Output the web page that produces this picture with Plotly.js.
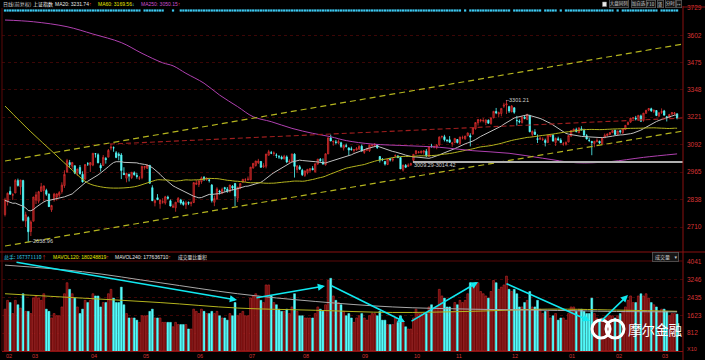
<!DOCTYPE html>
<html><head><meta charset="utf-8">
<script src="https://cdn.plot.ly/plotly-3.0.1.min.js"></script>
<style>html,body{margin:0;padding:0;background:#000;}#chart{width:705px;height:360px;}</style>
</head><body><div id="chart"></div>
<script>
// ---- data ----
const monthTickIdx=[0,10,33,53,74,94,115,138,158,174,196,218,236,254];
const monthLabels=["02","03","04","05","06","07","08","09","10","11","12","01","02","03"];
const priorCloses=[2949.60,3007.65,2900.97,2913.84,3007.74,2976.69,2880.48,2916.56,2938.51,2749.79,2735.56,2655.66,2737.60,2688.85,2749.57,2739.25,2781.02,2763.49,2746.20];
const open=[
2768,2828,2876,2858,2868,2926,2897,2926,2738,2754,
2689,2737,2835,2830,2876,2880,2880,2863,2790,2837,2849,2858,2875,2903,2965,3010,2993,2995,2963,2987,2955,2932,3004,
2998,2998,3051,3046,2997,2996,3029,3035,3077,3079,3055,3049,3045,2960,2937,2956,2940,2962,2950,2937,
2940,2987,2983,2997,2893,2823,2846,2818,2826,2822,2849,2832,2802,2799,2826,2836,2825,2813,2824,2820,2824,
2909,2908,2921,2941,2930,2929,2905,2825,2840,2877,2867,2893,2886,2876,2900,2912,2844,2891,2920,2929,
2931,2929,2985,2996,3009,3015,2990,2993,3044,3055,3052,3045,3037,3035,3027,3036,3013,3016,3049,2977,2990,
2974,2950,2963,2972,2982,2967,3003,3025,3013,2999,3050,3125,3106,3105,3101,3102,3077,3088,3078,3074,3066,3068,3072,
3086,3057,3067,3065,3088,3089,3093,3038,3025,3015,3001,3028,3021,3040,3040,3033,2975,2996,2992,2999,
3020,3052,3057,3056,3058,3063,3038,3087,3082,3082,3092,3130,3130,3114,3116,3097,
3103,3117,3099,3125,3120,3135,3135,3143,3167,3195,3205,3205,3196,3207,3191,3218,3247,3236,3238,3272,3278,3270,
3246,3265,3205,3202,3196,3221,3211,3228,3141,3152,3121,3118,3117,3113,3103,3131,3137,3103,3121,3114,3096,3095,
3105,3133,3157,3163,3148,3167,3159,3135,3113,3108,3098,3106,3109,3097,3125,3136,3141,3149,
3160,3141,3158,3149,3163,3186,3198,3216,3217,3209,3227,3206,3239,3254,3260,3248,3252,3226,
3243,3250,3223,3219,3236,3237,3237];
const high=[
2846,2870,2898,2867,2933,2935,2928,2930,2781,2760,
2741,2850,2874,2878,2915,2901,2888,2866,2813,2869,2864,2877,2918,2974,3027,3022,3013,2996,2981,2998,2969,3002,3012,
3011,3054,3053,3053,3007,3045,3036,3073,3097,3085,3063,3057,3054,2988,2963,2957,2966,2969,2962,2947,
2993,2994,3000,2997,2904,2838,2863,2836,2844,2855,2856,2838,2818,2826,2849,2841,2832,2832,2829,2829,2917,
2929,2926,2945,2947,2942,2935,2910,2856,2895,2883,2893,2897,2896,2906,2905,2915,2896,2913,2934,2937,
2945,2989,3008,3017,3027,3017,3007,3050,3069,3064,3062,3053,3045,3042,3046,3043,3025,3050,3053,2998,2998,
2981,2972,2980,2982,2993,3004,3026,3031,3029,3052,3125,3140,3111,3115,3117,3107,3094,3098,3081,3084,3073,3082,3090,
3094,3072,3079,3091,3096,3100,3095,3040,3031,3017,3029,3031,3033,3048,3045,3034,2999,3003,3006,3009.29,
3048,3065,3063,3067,3068,3073,3084,3097,3089,3096,3132,3134,3139,3118,3133,3106,
3123,3119,3129,3135,3134,3149,3146,3172,3196,3212,3213,3217,3209,3210,3218,3248,3264,3247,3262,3288,3301.21,3274,
3277,3266,3227,3211,3223,3229,3237,3232,3159,3165,3141,3131,3127,3121,3140,3143,3142,3126,3130,3123,3105,3108,
3136,3160,3168,3172,3173,3179,3167,3142,3124,3111,3110,3123,3112,3124,3145,3145,3151,3162,
3163,3157,3162,3169,3184,3201,3217,3222,3227,3230,3233,3240,3253,3264,3265,3256,3254,3243,
3262,3255,3227,3236,3244,3245,3237];
const low=[
2759,2810,2860,2836,2868,2898,2860,2736,2710,2638.96,
2668,2737,2817,2820,2873,2829,2855,2803,2780,2828,2833,2847,2865,2892,2963,2989,2980,2956,2948,2954,2917,2932,2994,
2966,2993,3033,3007,2968,2996,3005,3035,3067,3060,3030,3020,2933,2953,2918,2922,2933,2949,2935,2929,
2932,2977,2981,2913,2832,2806,2836,2795,2818,2814,2837,2806,2798,2781,2825,2814,2809,2794,2812,2806,2821,
2905,2896,2911,2924,2925,2917,2824,2807,2836,2861,2863,2874,2869,2870,2880,2807,2826,2886,2915,2919,
2925,2929,2981,2991,3003,2985,2985,2983,3043,3049,3041,3031,3027,3024,3025,3007,3005,3012,2940,2963,2975,
2947,2943,2955,2964,2974,2964,3000,3014,3001,2996,3050,3110,3088,3094,3097,3078,3066,3080,3043,3065,3056,3066,3070,
3061,3050,3063,3059,3083,3086,3074,3010,3016,2996,2998,3015,3014,3036,3030,2980,2968,2984,2990,2994,
3014.42,3047,3052,3051,3047,3036,3037,3079,3076,3072,3087,3122,3108,3104,3102,3083,
3100,3099,3094,3118,3116,3132,3085,3139,3163,3182,3197,3197,3184,3191,3186,3216,3235,3220,3225,3264,3236,3241,
3244,3237,3182,3192,3191,3211,3207,3151,3129,3138,3101,3115,3110,3085,3102,3128,3107,3087,3112,3101,3088,3089,
3105,3130,3154,3150,3147,3160,3136,3118,3105,3044,3081,3106,3096,3096,3124,3131,3137,3147,
3139,3140,3144,3141,3162,3185,3195,3209,3206,3204,3200,3200,3237,3249,3245,3240,3226,3222,
3236,3230,3201,3219,3231,3231,3211];
const close=[
2836.57,2867.34,2862.89,2860.02,2927.18,2903.33,2928.90,2741.25,2767.21,2687.98,
2733.17,2849.68,2859.76,2874.15,2897.34,2901.39,2862.56,2804.73,2810.31,2863.00,2864.37,2870.43,2904.83,2955.15,3018.80,2999.36,3009.96,2960.97,2979.43,2957.82,2919.83,3000.65,3003.92,
3009.53,3053.07,3050.59,3008.42,2984.96,3033.96,3023.65,3066.64,3082.36,3078.12,3033.66,3042.82,2972.58,2953.67,2959.24,2946.67,2964.70,2953.50,2945.59,2938.32,
2992.64,2991.27,2997.84,2913.25,2832.11,2832.59,2837.04,2835.86,2827.11,2850.86,2843.68,2807.51,2806.91,2825.48,2843.65,2821.67,2815.09,2822.44,2821.05,2822.45,2916.62,
2913.51,2925.23,2938.68,2934.10,2936.04,2927.16,2833.07,2842.19,2887.21,2872.82,2885.11,2888.81,2878.56,2905.55,2891.96,2854.29,2895.70,2912.56,2931.59,2929.61,
2932.48,2988.60,3006.39,3017.29,3016.85,2988.09,2994.92,3049.38,3060.69,3054.02,3054.30,3043.56,3036.60,3027.90,3039.01,3012.82,3015.83,3050.17,2992.00,2994.32,2979.34,
2953.39,2971.28,2978.46,2982.43,2976.70,3004.28,3025.68,3018.75,3002.64,3050.67,3125.20,3110.04,3109.04,3104.11,3108.10,3084.81,3089.71,3085.87,3068.33,3070.31,3070.03,3074.68,3085.49,
3063.31,3067.35,3072.10,3090.71,3091.93,3095.95,3078.85,3021.98,3023.51,3002.85,3026.05,3023.00,3025.87,3042.31,3033.90,2980.43,2998.48,2987.86,2998.17,3004.70,
3048.14,3065.25,3058.50,3061.35,3063.81,3041.17,3083.88,3084.72,3084.46,3090.94,3128.25,3131.94,3116.31,3112.35,3104.27,3100.49,
3122.44,3102.73,3128.94,3125.32,3133.33,3147.89,3128.37,3171.28,3196.04,3210.37,3206.99,3205.06,3208.45,3192.86,3218.15,3248.35,3241.14,3241.74,3261.94,3277.00,3282.92,3250.03,
3273.31,3243.84,3204.71,3199.65,3222.24,3215.37,3232.88,3152.97,3155.04,3140.53,3117.68,3122.98,3118.08,3102.88,3137.43,3139.56,3110.15,3122.57,3114.66,3102.24,3096.10,3103.64,
3135.92,3158.79,3165.41,3154.32,3171.24,3161.67,3136.75,3119.29,3112.76,3103.43,3108.77,3113.01,3101.30,3123.14,3136.77,3142.55,3149.55,3159.17,
3140.17,3156.98,3153.09,3166.98,3183.18,3196.70,3216.84,3217.93,3212.99,3229.62,3202.08,3239.96,3253.33,3261.22,3251.38,3253.43,3228.66,3241.73,
3246.93,3230.03,3218.31,3233.87,3242.41,3240.66,3216.75];
const volume=[
1900,2300,2200,1700,2300,2100,1950,2600,1800,1800,
1700,2400,2500,2400,2300,2600,1900,1800,1500,1700,1600,1600,2000,2600,3100,2800,2600,2400,2000,1700,1900,2300,2200,
2300,2600,2500,2500,2000,2200,2200,2600,2800,2400,2200,2200,2900,2100,1700,1500,1500,1500,1400,1300,
1600,1600,1600,1800,1900,1500,1500,1500,1300,1300,1300,1300,1100,1300,1200,1200,1200,1200,1000,1000,1900,
1800,1700,1900,1800,1700,1700,1800,1700,1800,1600,1500,1500,1400,1700,1600,2200,1600,1700,1800,1600,
1600,2400,2500,2600,2500,2300,2200,3000,3000,2500,2200,2100,1900,1800,1800,1900,1700,2000,2600,1800,1600,
1600,1500,1500,1500,1500,1700,2000,1900,1800,2100,3200,3300,2500,2300,2200,2100,1800,1600,1700,1500,1300,1500,1600,
1700,1500,1400,1600,1700,1700,1600,1800,1400,1400,1200,1200,1200,1500,1300,1600,1300,1100,1000,1000,
1500,1900,1700,1700,1700,1700,2000,2100,1900,2000,2800,2500,2400,2000,2000,1800,
2200,2100,2300,2200,2300,2600,3100,3000,3100,3100,2700,2600,2500,2400,2700,3200,3100,2800,2900,3000,3400,2800,
2700,2800,2600,2000,2000,2200,2300,2700,2000,2000,2300,1900,1700,1800,1800,1500,1600,1700,1400,1500,1500,1400,
1700,2000,2000,1800,1900,1900,1800,1700,1700,2400,1700,1500,1400,1500,1500,1600,1600,1600,
1500,1600,1700,1800,2000,2300,2500,2200,2200,2500,2600,2500,2600,2400,2200,2100,2000,1800,
1900,1900,1800,1600,1700,1700,1674];
const ma60HeadIdx=[0,10,19,26,32,37,42,50,55];
const ma60HeadVal=[3273,3153,3053,2975,2915,2897,2891,2897,2915];
const ma250Idx=[0,11,24,34,45,53,61,65,70,77,83,90,96,103,111,119,126,132,142,156,168,181,195,208,221,234,247,260];
const ma250Val=[3673,3665,3642,3608,3568,3518,3474,3460,3425,3379,3324,3270,3223,3200,3169,3146,3130,3112,3096,3088,3081,3065,3053,3030,3009,3014,3034,3050.15];
const mavol120Idx=[0,30,60,90,120,150,180,210,240,260];
const mavol120Val=[2600,2400,2200,1950,1850,1750,1800,1900,1850,1802];
const mavol240Idx=[0,30,60,90,120,150,180,210,240,260];
const mavol240Val=[3900,3600,3100,2600,2250,2000,1900,1850,1790,1776];
const eventRuns=[[0,52],[54,61],[65,65],[68,176],[178,178],[180,195],[197,207],[209,213],[215,215],[217,235],[237,237],[239,252],[254,260]];
const priceTicks=[2710,2838,2965,3092,3221,3348,3475,3602,3729];
const volTicks=[812,1623,2435,3246,4041];

// ---- derived ----
const N=close.length;
const idx=[...Array(N).keys()];
const allC=priorCloses.concat(close);
const ma20=idx.map(i=>{let s=0;for(let k=i;k<i+20;k++)s+=allC[k];return s/20;});
const ma60x=ma60HeadIdx.slice(), ma60y=ma60HeadVal.slice();
for(let i=59;i<N;i++){let s=0;for(let k=i-59;k<=i;k++)s+=close[k];ma60x.push(i);ma60y.push(s/60);}
const up=idx.map(i=>close[i]>=open[i]);
const evX=[];eventRuns.forEach(r=>{for(let i=r[0];i<=r[1];i++)evX.push(i);});

// ---- geometry ----
const W=705,H=360;
const X0=2,X1=683;
const pitch=2.585, firstX=5;
const xr=[(X0-firstX)/pitch,(X1-firstX)/pitch];
const mainTop=8, mainBot=252, volTop=262, volBot=351;
const yTopVal=3729, perPx=4.653;
const yr=[yTopVal-(mainBot-mainTop)*perPx,yTopVal];
const px=x=>x/W, py=y=>1-y/H;
const RED='#d83434', CY='#54fcfc', YEL='#b4b41e', PUR='#b040b0', GRY='#c0c0c0';
const FONT='"Noto Sans CJK SC", "DejaVu Sans", sans-serif';
const NUMF='"Liberation Sans", Arial, sans-serif';

const ctx=document.createElement('canvas').getContext('2d');
function tw(text,size,fam){ctx.font=size+'px '+fam;return ctx.measureText(text.replace(/<[^>]+>/g,'')).width;}

const traces=[
 {type:'candlestick',x:idx,open,high,low,close,xaxis:'x',yaxis:'y',
  increasing:{line:{color:'#d83030',width:0.8},fillcolor:'#660808'},
  decreasing:{line:{color:CY,width:0.8},fillcolor:CY},whiskerwidth:0,hoverinfo:'skip'},
 {type:'scatter',mode:'lines',x:idx,y:ma20,line:{color:GRY,width:1},xaxis:'x',yaxis:'y',hoverinfo:'skip'},
 {type:'scatter',mode:'lines',x:ma60x,y:ma60y,line:{color:YEL,width:1,shape:'spline'},xaxis:'x',yaxis:'y',hoverinfo:'skip'},
 {type:'scatter',mode:'lines',x:ma250Idx,y:ma250Val,line:{color:PUR,width:1,shape:'spline'},xaxis:'x',yaxis:'y',hoverinfo:'skip'},
 {type:'scatter',mode:'markers',x:evX,y:evX.map(()=>yTopVal-2.5*perPx),marker:{symbol:'square',size:2.2,color:'#3cc8f0'},xaxis:'x',yaxis:'y',hoverinfo:'skip'},
 {type:'bar',x:idx,y:volume,width:0.72,xaxis:'x2',yaxis:'y2',
  marker:{color:up.map(u=>u?'#660808':CY),line:{color:up.map(u=>u?'#d83434':CY),width:0.5}},hoverinfo:'skip'},
 {type:'scatter',mode:'lines',x:mavol120Idx,y:mavol120Val,line:{color:YEL,width:1,shape:'spline'},xaxis:'x2',yaxis:'y2',hoverinfo:'skip'},
 {type:'scatter',mode:'lines',x:mavol240Idx,y:mavol240Val,line:{color:'#a8a8a8',width:1,shape:'spline'},xaxis:'x2',yaxis:'y2',hoverinfo:'skip'}
];

function T(x,y,text,color,size,fam,anchor){return {xref:'paper',yref:'paper',x:px(x),y:py(y),text,showarrow:false,xanchor:anchor||'left',yanchor:'middle',font:{family:fam||FONT,size:size||5.5,color},borderpad:0};}
function B(x,y,text,size){return {xref:'paper',yref:'paper',x:px(x),y:py(y),text,showarrow:false,xanchor:'left',yanchor:'middle',font:{family:FONT,size:size||4.5,color:'#d0d0d0'},bgcolor:'#151515',bordercolor:'#5a5a5a',borderwidth:0.8,borderpad:0};}
function AR(tx,ty,hx,hy){return {xref:'paper',yref:'paper',x:px(hx),y:py(hy),ax:tx-hx,ay:ty-hy,axref:'pixel',ayref:'pixel',text:'',showarrow:true,arrowcolor:'#10e8f0',arrowwidth:1.6,arrowhead:2,arrowsize:0.9};}
const upA=`<span style="color:${RED}">↑</span>`;
const dnA=`<span style="color:${CY}">↓</span>`;
// place a row of header texts left to right starting near their reference x, never overlapping
function row(y,items){const out=[];let end=-1;items.forEach(it=>{const x=Math.max(it.x,end+2);out.push(T(x,y,it.t,it.c,it.s,it.f));end=x+tw(it.t,it.s,it.f)+(it.t.includes('<span')?it.s*0.9:0);});return out;}

const ann=[].concat(
 row(4,[
  {x:2,t:'日线(前复权)',c:'#d0d0d0',s:5,f:FONT},
  {x:25,t:'上证指数',c:'#ffffff',s:5,f:FONT},
  {x:45,t:'MA20: 3231.74'+upA,c:'#e8e8e8',s:5,f:NUMF},
  {x:82,t:'MA60: 3169.56'+dnA,c:'#e8e800',s:5,f:NUMF},
  {x:117,t:'MA250: 3050.15'+upA,c:'#d050d0',s:5,f:NUMF}]),
 row(257,[
  {x:3,t:'总手: 167371110'+upA,c:'#3cd8f0',s:5,f:FONT},
  {x:44,t:'MAVOL120: 180248819'+upA,c:'#e8e800',s:5,f:NUMF},
  {x:98,t:'MAVOL240: 177636710'+upA,c:'#e8e8e8',s:5,f:NUMF},
  {x:153,t:'成交量比重积',c:'#e0e0e0',s:4.8,f:FONT}]),
 [
 B(609,4,'大盘同列'),B(631,4,'加自选'),B(646,4,'F10'),B(657,4,'竖'),B(665,4,'分时'),B(676,4,'↦'),
 B(652,257,'  成交量    ▾ ',5),
 T(29,241,'–2638.96','#d0d0d0',5.5,NUMF),
 T(505,100,'–3301.21','#d0d0d0',5.5,NUMF),
 T(413,165,'3009.29-3014.42','#d0d0d0',5.5,NUMF),
 T(686,349,'X10',RED,5.5,NUMF),
 AR(15,262,237,300),
 AR(255,298,325,286),
 AR(330,285,405,322),
 AR(410,322,478,282),
 AR(505,283,590,321),
 AR(600,322,628,295),
 T(627,329,'摩尔金融','#ffffff',13.5)
 ]);
monthTickIdx.forEach((m,i)=>ann.push({xref:'x2',yref:'paper',x:m-0.5,y:py(355.5),text:monthLabels[i],showarrow:false,xanchor:'left',yanchor:'middle',font:{family:NUMF,size:5.5,color:RED}}));

const shapes=[
 {type:'line',xref:'x',yref:'y',x0:0,y0:3017,x1:xr[1],y1:3561.5,line:{color:YEL,width:1.2,dash:'6px,4px'}},
 {type:'line',xref:'x',yref:'y',x0:0,y0:2621.6,x1:xr[1],y1:3156.7,line:{color:YEL,width:1.2,dash:'6px,4px'}},
 {type:'line',xref:'x',yref:'y',x0:40.6,y0:3096,x1:xr[1],y1:3217,line:{color:'#a01e1e',width:1.1,dash:'5px,3px'}},
 {type:'line',xref:'x',yref:'y',x0:157.8,y0:3011.9,x1:xr[1],y1:3011.9,line:{color:'#b0b0b0',width:2}},
 {type:'line',xref:'paper',yref:'paper',x0:px(683),x1:px(683),y0:0,y1:py(6),line:{color:'#8a1010',width:1}},
 {type:'line',xref:'paper',yref:'paper',x0:px(2),x1:px(2),y0:py(351),y1:py(8),line:{color:'#5a0808',width:1}},
 {type:'line',xref:'paper',yref:'paper',x0:0,x1:px(705),y0:py(252),y1:py(252),line:{color:'#8a1010',width:1}},
 {type:'line',xref:'paper',yref:'paper',x0:0,x1:px(683),y0:py(261),y1:py(261),line:{color:'#5a0808',width:1}},
 {type:'line',xref:'paper',yref:'paper',x0:px(683),x1:1,y0:py(7),y1:py(7),line:{color:'#8a1010',width:1}},
 {type:'rect',xref:'paper',yref:'paper',x0:px(602.5),x1:px(606.5),y0:py(6.5),y1:py(2),fillcolor:'#e8e8e8',line:{color:'#888',width:0.5}},
 {type:'circle',xref:'paper',yref:'paper',x0:px(592),x1:px(610),y0:py(338),y1:py(320),line:{color:'#ffffff',width:3}},
 {type:'circle',xref:'paper',yref:'paper',x0:px(606),x1:px(624),y0:py(338),y1:py(320),line:{color:'#ffffff',width:3}}
];

const layout={
 width:W,height:H,margin:{l:0,r:0,t:0,b:0},paper_bgcolor:'#000',plot_bgcolor:'#000',showlegend:false,
 xaxis:{domain:[px(X0),px(X1)],range:xr,anchor:'y',showgrid:false,zeroline:false,showticklabels:false,rangeslider:{visible:false},fixedrange:true},
 yaxis:{domain:[py(mainBot),py(mainTop)],range:yr,side:'right',anchor:'x',tickvals:priceTicks,ticktext:priceTicks.map(String),
   tickfont:{family:NUMF,size:6.5,color:RED},gridcolor:'#3c0606',griddash:'dot',gridwidth:1,zeroline:false,ticks:'',ticklabelstandoff:3},
 xaxis2:{domain:[px(X0),px(X1)],range:xr,anchor:'y2',matches:'x',showgrid:false,zeroline:false,showticklabels:false,ticks:'',showline:true,linecolor:'#8a1010'},
 yaxis2:{domain:[py(volBot),py(volTop)],range:[0,4041],side:'right',anchor:'x2',tickvals:volTicks,ticktext:volTicks.map(String),
   tickfont:{family:NUMF,size:6.5,color:RED},gridcolor:'#3c0606',griddash:'dot',zeroline:false,ticks:'',ticklabelstandoff:3},
 bargap:0.2,annotations:ann,shapes:shapes
};
Plotly.newPlot('chart',traces,layout,{staticPlot:true,displayModeBar:false});
</script></body></html>
